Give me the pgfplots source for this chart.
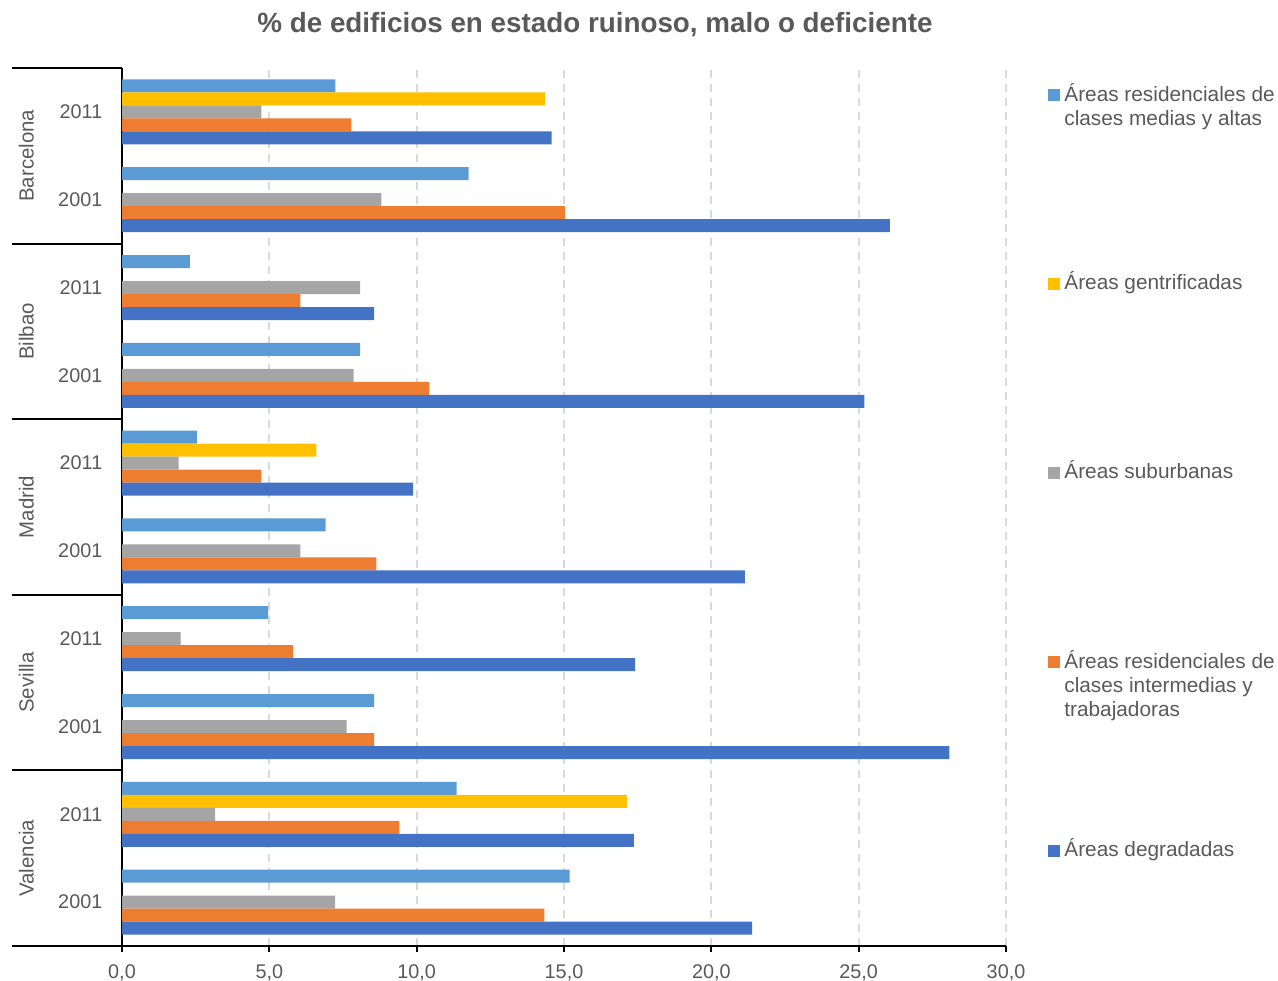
\documentclass[border=0pt]{standalone}
\usepackage{fontspec}
\setmainfont{Liberation Sans}
\usepackage{pgfplots}
\pgfplotsset{compat=1.18}
\usepackage{pgfplotstable}

\definecolor{cLB}{HTML}{5B9BD5}
\definecolor{cYE}{HTML}{FFC000}
\definecolor{cGR}{HTML}{A5A5A5}
\definecolor{cOR}{HTML}{ED7D31}
\definecolor{cDB}{HTML}{4472C4}
\definecolor{txt}{HTML}{595959}
\definecolor{gridc}{HTML}{D9D9D9}

\newcommand{\tickfont}{\fontsize{9.9}{11}\selectfont}
\newcommand{\cityfont}{\fontsize{10.2}{12}\selectfont}
\newcommand{\titlefont}{\fontsize{13.9}{16}\selectfont\bfseries}
\newcommand{\legtext}[1]{\parbox[t]{112pt}{\fontsize{10.4}{12}\selectfont\raggedright #1}}

% y: 0 = Valencia 2001 ... 9 = Barcelona 2011
\pgfplotstableread{
y  lb    ye    gr   or    db
0  15.19 nan   7.23 14.33 21.38
1  11.36 17.13 3.16 9.41  17.37
2  8.56  nan   7.62 8.56  28.08
3  4.96  nan   1.99 5.81  17.41
4  6.91  nan   6.05 8.63  21.14
5  2.54  6.60  1.92 4.73  9.88
6  8.08  nan   7.86 10.43 25.19
7  2.30  nan   8.08 6.05  8.56
8  11.76 nan   8.80 15.04 26.06
9  7.24  14.36 4.73 7.78  14.58
}\datatable

\begin{document}
\begin{tikzpicture}
\useasboundingbox (-61pt,-17pt) rectangle (578pt,473pt);
\begin{axis}[
  at={(0pt,0pt)}, anchor=south west,
  scale only axis, width=442pt, height=439pt,
  xmin=0, xmax=30, ymin=-0.5, ymax=9.5,
  xbar, bar width=6.5pt,
  clip=false,
  axis x line*=bottom, axis y line*=left,
  axis line style={black, line width=1pt},
  xtick={0,5,...,30},
  ytick={0,...,9},
  yticklabels={2001,2011,2001,2011,2001,2011,2001,2011,2001,2011},
  tick align=outside, major tick length=3pt,
  xtick style={black, line width=1pt},
  ytick style={draw=none},
  xmajorgrids,
  major grid style={gridc, line width=0.9pt, dash pattern=on 4pt off 3pt},
  /pgf/number format/.cd, fixed, fixed zerofill, precision=1, use comma, assume math mode=true,
  /pgfplots/.cd,
  xticklabel style={font=\tickfont, text=txt, inner sep=0pt, yshift=-6.15pt},
  yticklabel style={font=\tickfont, text=txt, inner sep=0pt, xshift=-6.65pt},
]
\addplot[fill=cLB, draw=none, bar shift=13pt] table[x=lb, y=y] {\datatable};
\addplot[fill=cYE, draw=none, bar shift=6.5pt] table[x=ye, y=y] {\datatable};
\addplot[fill=cGR, draw=none, bar shift=0pt] table[x=gr, y=y] {\datatable};
\addplot[fill=cOR, draw=none, bar shift=-6.5pt] table[x=or, y=y] {\datatable};
\addplot[fill=cDB, draw=none, bar shift=-13pt] table[x=db, y=y] {\datatable};

% legend (baselines at 101, 290, 479, 668, 857 px from top)
\fill[cLB] (rel axis cs:1.0475,0.9624) rectangle ++(6pt,6pt);
\node[anchor=base west, inner sep=0pt, text=txt] at (rel axis cs:1.0656,0.9624) {\legtext{Áreas residenciales de clases medias y altas}};
\fill[cYE] (rel axis cs:1.0475,0.7472) rectangle ++(6pt,6pt);
\node[anchor=base west, inner sep=0pt, text=txt] at (rel axis cs:1.0656,0.7472) {\legtext{Áreas gentrificadas}};
\fill[cGR] (rel axis cs:1.0475,0.5319) rectangle ++(6pt,6pt);
\node[anchor=base west, inner sep=0pt, text=txt] at (rel axis cs:1.0656,0.5319) {\legtext{Áreas suburbanas}};
\fill[cOR] (rel axis cs:1.0475,0.3166) rectangle ++(6pt,6pt);
\node[anchor=base west, inner sep=0pt, text=txt] at (rel axis cs:1.0656,0.3166) {\legtext{Áreas residenciales de clases intermedias y trabajadoras}};
\fill[cDB] (rel axis cs:1.0475,0.1014) rectangle ++(6pt,6pt);
\node[anchor=base west, inner sep=0pt, text=txt] at (rel axis cs:1.0656,0.1014) {\legtext{Áreas degradadas}};

\pgfplotsinvokeforeach{0,0.2,0.4,0.6,0.8,1}{
  \draw[black, line width=1pt] (rel axis cs:-0.1244,#1) -- (rel axis cs:0,#1);
}
\node[rotate=90, anchor=base, font=\cityfont, text=txt] at (rel axis cs:-0.1001,0.9) {Barcelona};
\node[rotate=90, anchor=base, font=\cityfont, text=txt] at (rel axis cs:-0.1001,0.7) {Bilbao};
\node[rotate=90, anchor=base, font=\cityfont, text=txt] at (rel axis cs:-0.1001,0.5) {Madrid};
\node[rotate=90, anchor=base, font=\cityfont, text=txt] at (rel axis cs:-0.1001,0.3) {Sevilla};
\node[rotate=90, anchor=base, font=\cityfont, text=txt] at (rel axis cs:-0.1001,0.1) {Valencia};
\node[anchor=base, font=\titlefont, text=txt] at (rel axis cs:0.535,1.0399) {\% de edificios en estado ruinoso, malo o deficiente};
\end{axis}
\end{tikzpicture}
\end{document}
